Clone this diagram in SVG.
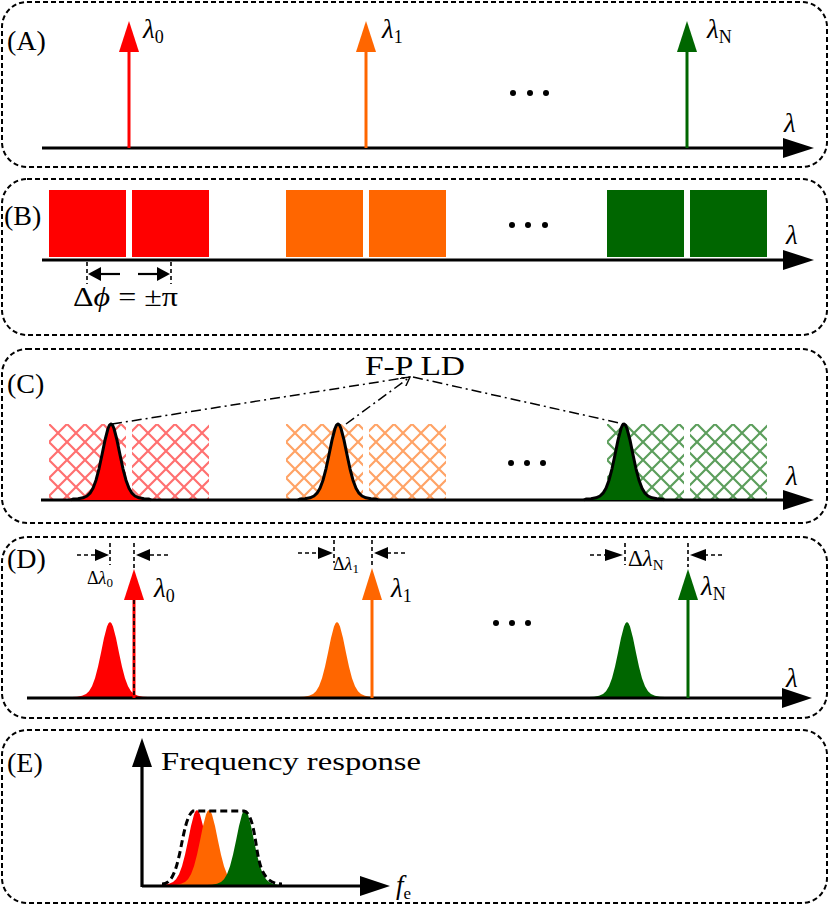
<svg xmlns="http://www.w3.org/2000/svg" xmlns:xlink="http://www.w3.org/1999/xlink" width="830" height="905" viewBox="0 0 830 905">
<style>
.box{fill:none;stroke:#000;stroke-width:2;stroke-dasharray:5,3}
.ax{stroke:#000;stroke-width:3.2;fill:none}
.t{font-family:"Liberation Serif","DejaVu Serif",serif;fill:#000}
.lab{font-size:28px}
.lam{font-style:italic;font-size:27px}
.sub{font-style:normal;font-size:18px}
.dd{stroke:#000;stroke-width:1.5;fill:none;stroke-dasharray:10,4,2,4}
.dsh{stroke:#000;stroke-width:1.6;fill:none;stroke-dasharray:4,3}
.red{fill:#ff0000}.org{fill:#ff6600}.grn{fill:#006600}
</style>
<defs>
<path id="pk" d="M-40,0 L-38,-1 L-33,-1.3 L-28,-2.2 L-24,-4 L-21,-6.8 L-18,-11.8 L-15,-19.8 L-12,-31.2 L-9,-45.3 L-6,-59.9 L-3,-71.5 L-1.5,-74.8 L0,-76 L1.5,-74.8 L3,-71.5 L6,-59.9 L9,-45.3 L12,-31.2 L15,-19.8 L18,-11.8 L21,-6.8 L24,-4 L28,-2.2 L33,-1.3 L38,-1 L40,0"/>
<pattern id="hR" patternUnits="userSpaceOnUse" x="49" y="424" width="18" height="18"><path d="M-1,-1 L19,19 M19,-1 L-1,19" stroke="#ff7070" stroke-width="2.2"/></pattern>
<pattern id="hO" patternUnits="userSpaceOnUse" x="286" y="424" width="18" height="18"><path d="M-1,-1 L19,19 M19,-1 L-1,19" stroke="#ffa366" stroke-width="2.2"/></pattern>
<pattern id="hG" patternUnits="userSpaceOnUse" x="607" y="424" width="18" height="18"><path d="M-1,-1 L19,19 M19,-1 L-1,19" stroke="#5c9e5c" stroke-width="2.2"/></pattern>
<marker id="open" viewBox="0 0 10 10" refX="9" refY="5" markerWidth="10" markerHeight="10" markerUnits="userSpaceOnUse" orient="auto"><path d="M0,0 L9,5 L0,10" fill="none" stroke="#000" stroke-width="1.4"/></marker>
</defs>

<!-- Panel A -->
<g id="panelA">
<rect class="box" x="2" y="2" width="825" height="165" rx="25"/>
<text class="t lab" x="7" y="50">(A)</text>
<line class="ax" x1="42" y1="148" x2="786" y2="148"/>
<polygon points="783,138 814,148 783,158"/>
<text class="t lam" x="784" y="132">λ</text>
<line x1="129" y1="148" x2="129" y2="50" stroke="#ff0000" stroke-width="3"/>
<polygon class="red" points="119,52 129,21 139,52"/>
<text class="t lam" x="143" y="38">λ<tspan class="sub" dy="5">0</tspan></text>
<line x1="366" y1="148" x2="366" y2="50" stroke="#ff6600" stroke-width="3"/>
<polygon class="org" points="356,52 366,21 376,52"/>
<text class="t lam" x="382" y="38">λ<tspan class="sub" dy="5">1</tspan></text>
<line x1="687" y1="148" x2="687" y2="50" stroke="#006600" stroke-width="3"/>
<polygon class="grn" points="677,52 687,21 697,52"/>
<text class="t lam" x="707" y="38">λ<tspan class="sub" dy="5">N</tspan></text>
<circle cx="513" cy="93" r="3"/><circle cx="530" cy="93" r="3"/><circle cx="546" cy="93" r="3"/>
</g>

<!-- Panel B -->
<g id="panelB">
<rect class="box" x="2" y="179" width="825" height="156" rx="25"/>
<rect class="red" x="49" y="190" width="77" height="67"/>
<rect class="red" x="132" y="190" width="77" height="67"/>
<rect class="org" x="286" y="190" width="77" height="67"/>
<rect class="org" x="369" y="190" width="77" height="67"/>
<rect class="grn" x="607" y="190" width="77" height="67"/>
<rect class="grn" x="690" y="190" width="77" height="67"/>
<text class="t lab" x="4" y="225">(B)</text>
<line class="ax" x1="42" y1="260" x2="786" y2="260"/>
<polygon points="783,250 814,260 783,270"/>
<text class="t lam" x="786" y="244">λ</text>
<circle cx="512" cy="225" r="3"/><circle cx="528" cy="225" r="3"/><circle cx="545" cy="225" r="3"/>
<line class="dsh" x1="87" y1="262" x2="87" y2="284"/>
<line class="dsh" x1="171" y1="262" x2="171" y2="284"/>
<line x1="120" y1="274" x2="100" y2="274" stroke="#000" stroke-width="2.2"/>
<polygon points="101,267 88,274 101,281"/>
<line x1="138" y1="274" x2="158" y2="274" stroke="#000" stroke-width="2.2"/>
<polygon points="157,267 170,274 157,281"/>
<text class="t" font-size="27" x="73" y="306" textLength="105" lengthAdjust="spacingAndGlyphs">Δ<tspan font-style="italic">ϕ</tspan> = ±π</text>
</g>

<!-- Panel C -->
<g id="panelC">
<rect class="box" x="2" y="349" width="825" height="174" rx="25"/>
<text class="t lab" x="7" y="393">(C)</text>
<rect x="49" y="424" width="77" height="76" fill="url(#hR)"/>
<rect x="132" y="424" width="77" height="76" fill="url(#hR)"/>
<rect x="286" y="424" width="77" height="76" fill="url(#hO)"/>
<rect x="369" y="424" width="77" height="76" fill="url(#hO)"/>
<rect x="607" y="424" width="77" height="76" fill="url(#hG)"/>
<rect x="690" y="424" width="77" height="76" fill="url(#hG)"/>
<line class="ax" x1="41" y1="500" x2="786" y2="500"/>
<polygon points="783,490 814,500 783,510"/>
<text class="t lam" x="786" y="485">λ</text>
<use xlink:href="#pk" x="111" y="500" fill="#ff0000" stroke="#000" stroke-width="3" stroke-linejoin="round"/>
<use xlink:href="#pk" x="338" y="500" fill="#ff6600" stroke="#000" stroke-width="3" stroke-linejoin="round"/>
<use xlink:href="#pk" x="624" y="500" fill="#006600" stroke="#000" stroke-width="3" stroke-linejoin="round"/>
<circle cx="511" cy="463" r="3"/><circle cx="527" cy="463" r="3"/><circle cx="543" cy="463" r="3"/>
<text class="t" font-size="27" x="365" y="375" textLength="100" lengthAdjust="spacingAndGlyphs">F-P LD</text>
</g>

<g id="connectors">
<line class="dd" x1="112" y1="424" x2="410" y2="377"/>
<line class="dd" x1="346" y1="424" x2="410" y2="377" marker-end="url(#open)"/>
<line class="dd" x1="413" y1="377" x2="624" y2="424"/>
</g>

<!-- Panel D -->
<g id="panelD">
<rect class="box" x="2" y="537" width="825" height="181" rx="25"/>
<text class="t lab" x="7" y="568">(D)</text>
<use xlink:href="#pk" x="110" y="698" fill="#ff0000"/>
<use xlink:href="#pk" x="337" y="698" fill="#ff6600"/>
<use xlink:href="#pk" x="627" y="698" fill="#006600"/>
<line class="ax" x1="27" y1="698" x2="784" y2="698"/>
<polygon points="782,688 812,698 782,708"/>
<text class="t lam" x="786" y="687">λ</text>
<circle cx="496" cy="623" r="3"/><circle cx="512" cy="623" r="3"/><circle cx="528" cy="623" r="3"/>
<line x1="134" y1="698" x2="134" y2="598" stroke="#ff0000" stroke-width="3"/>
<line class="dsh" x1="134" y1="600" x2="134" y2="698"/>
<polygon class="red" points="124,600 134,569 144,600"/>
<text class="t lam" x="154" y="597">λ<tspan class="sub" dy="5">0</tspan></text>
<line x1="372" y1="698" x2="372" y2="598" stroke="#ff6600" stroke-width="3"/>
<polygon class="org" points="362,600 372,568 382,600"/>
<text class="t lam" x="391" y="597">λ<tspan class="sub" dy="5">1</tspan></text>
<line x1="688" y1="698" x2="688" y2="598" stroke="#006600" stroke-width="3"/>
<polygon class="grn" points="678,600 688,569 698,600"/>
<text class="t lam" x="701" y="595">λ<tspan class="sub" dy="5">N</tspan></text>
<line class="dsh" x1="110" y1="543" x2="110" y2="565"/>
<line class="dsh" x1="134" y1="543" x2="134" y2="568"/>
<line class="dsh" x1="77" y1="555" x2="96" y2="555"/>
<polygon points="95,549 109,555 95,561"/>
<line class="dsh" x1="168" y1="555" x2="149" y2="555"/>
<polygon points="150,549 136,555 150,561"/>
<text class="t" font-size="18" x="87" y="584">Δ<tspan font-style="italic">λ</tspan><tspan font-size="13" dy="3">0</tspan></text>
<line class="dsh" x1="334" y1="540" x2="334" y2="563"/>
<line class="dsh" x1="372" y1="540" x2="372" y2="566"/>
<line class="dsh" x1="298" y1="553" x2="319" y2="553"/>
<polygon points="318,547 333,553 318,559"/>
<line class="dsh" x1="405" y1="553" x2="387" y2="553"/>
<polygon points="388,547 374,553 388,559"/>
<text class="t" font-size="18" x="333" y="570">Δ<tspan font-style="italic">λ</tspan><tspan font-size="13" dy="3">1</tspan></text>
<line class="dsh" x1="625" y1="543" x2="625" y2="565"/>
<line class="dsh" x1="688" y1="543" x2="688" y2="567"/>
<line class="dsh" x1="590" y1="555" x2="606" y2="555"/>
<polygon points="605,549 623,555 605,561"/>
<line class="dsh" x1="722" y1="555" x2="705" y2="555"/>
<polygon points="706,549 690,555 706,561"/>
<text class="t" font-size="23" x="628" y="566">Δ<tspan font-style="italic">λ</tspan><tspan font-size="15" dy="4">N</tspan></text>
</g>

<!-- Panel E -->
<g id="panelE">
<rect class="box" x="2" y="730" width="825" height="173" rx="25"/>
<text class="t lab" x="7" y="772">(E)</text>
<use xlink:href="#pk" x="197" y="886" fill="#ff0000"/>
<use xlink:href="#pk" x="209" y="886" fill="#ff6600"/>
<use xlink:href="#pk" x="245" y="886" fill="#006600"/>
<path d="M162,884 C172,884 176,870 180,852 C184,832 187,815 193,811 L244,811 C251,812 254,830 257,850 C260,868 264,884 282,884" fill="none" stroke="#000" stroke-width="3" stroke-dasharray="7,4"/>
<line class="ax" x1="142" y1="887" x2="142" y2="765"/>
<polygon points="132,767 142,738 152,767"/>
<line class="ax" x1="142" y1="886" x2="362" y2="886"/>
<polygon points="360,876 390,886 360,896"/>
<text class="t" font-size="25" x="161" y="770" textLength="260" lengthAdjust="spacingAndGlyphs">Frequency response</text>
<text class="t" font-size="27" font-style="italic" x="396" y="894">f<tspan font-style="normal" font-size="17" dy="5">e</tspan></text>
</g>
</svg>
